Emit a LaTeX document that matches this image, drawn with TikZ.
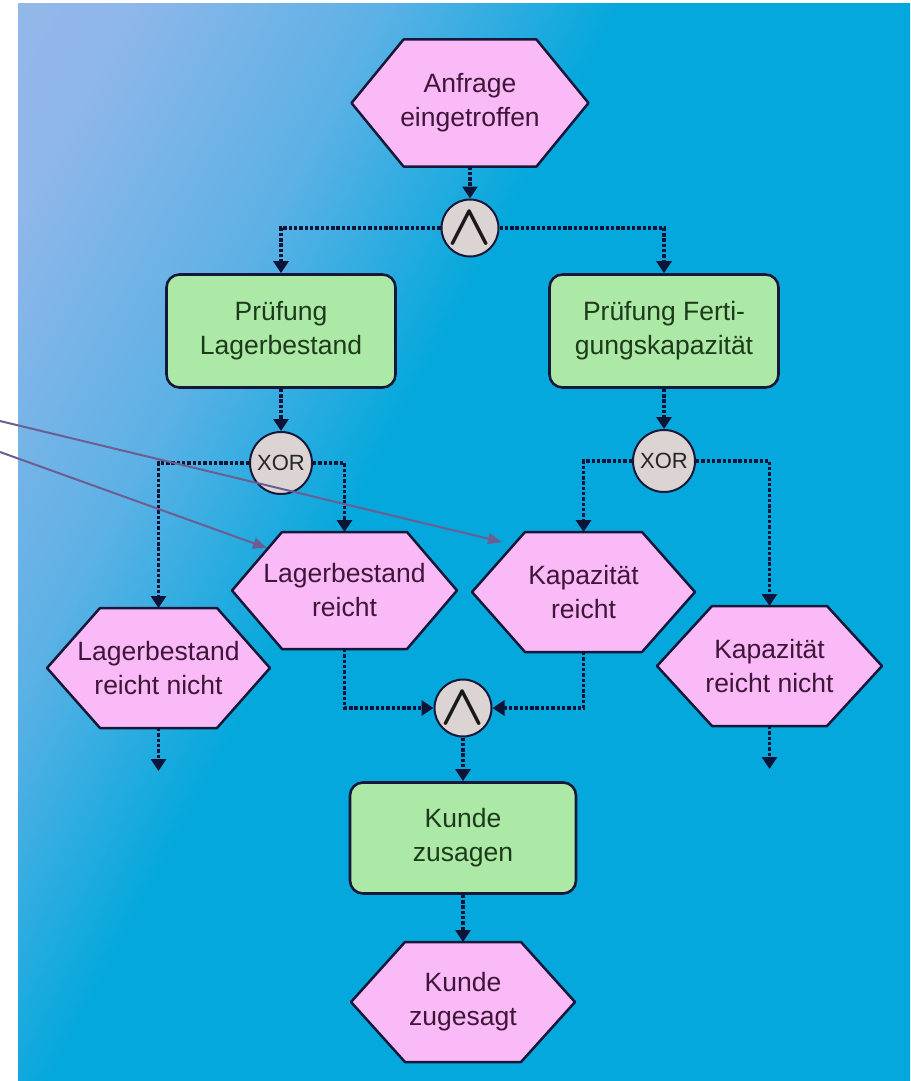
\documentclass[tikz,border=0pt]{standalone}
\usepackage{fontspec}
\setmainfont{Liberation Sans}
\usetikzlibrary{arrows.meta,calc}

% colours
\definecolor{bgA}{HTML}{9BBAEC}
\definecolor{bgB}{HTML}{90B7EA}
\definecolor{bgC}{HTML}{5DB1E5}
\definecolor{bgD}{HTML}{05A8DC}
\definecolor{evtfill}{HTML}{FAB9F7}
\definecolor{fnfill}{HTML}{ACE8A6}
\definecolor{gatefill}{HTML}{DCD3D3}
\definecolor{edgecol}{HTML}{16183A}
\definecolor{flowcol}{HTML}{0C1438}
\definecolor{evttext}{HTML}{3E1638}
\definecolor{fntext}{HTML}{1D3A1B}
\definecolor{notecol}{HTML}{6A5E92}

\pgfdeclarehorizontalshading{panelshade}{100bp}{%
  color(0bp)=(bgA); color(21bp)=(bgB); color(33bp)=(bgC);
  color(44bp)=(bgD); color(100bp)=(bgD)}

\pgfdeclarelayer{panel}
\pgfdeclarelayer{shapes}
\pgfsetlayers{panel,shapes,main}

% AND symbol drawn large
\newcommand{\andglyph}{\resizebox{!}{32pt}{\boldmath$\wedge$}}

\tikzset{
  txt/.style={font=\fontsize{26.5}{34}\selectfont, align=center},
  evt/.style={txt, text=evttext, inner sep=0pt, outer sep=0pt,
    minimum width=225, minimum height=120},
  hexline/.style={draw=edgecol, line width=2.5, fill=evtfill, line join=round},
  fn/.style={txt, text=fntext, draw=edgecol, line width=2.6, fill=fnfill,
    rounded corners=13, minimum width=229, minimum height=113, inner sep=0pt},
  gate/.style={circle, draw=edgecol, line width=2, fill=gatefill,
    inner sep=0pt, minimum size=57},
  andsym/.style={gate, text=black!90},
  xorsym/.style={gate, minimum size=62, font=\fontsize{22}{24}\selectfont, text=black!85},
  flow/.style={draw=flowcol, line width=3.2, dash pattern=on 3.4 off 1.9,
    -{Triangle[width=15,length=12]}},
  notearrow/.style={draw=notecol, line width=2,
    -{Triangle[width=11,length=14]}},
}

\begin{document}
\begin{tikzpicture}[x=1pt,y=-1pt]
\useasboundingbox (0,0) rectangle (910,1081);

% background panel
\begin{pgfonlayer}{panel}
  \shade[shading=panelshade, shading angle=-28] (18,4) rectangle (910,1081);
\end{pgfonlayer}

% events
\node[evt, minimum width=237, minimum height=127] (anf) at (470,103) {Anfrage\\eingetroffen};
\node[evt, minimum height=117] (lr)  at (344.5,590.5) {Lagerbestand\\reicht};
\node[evt, minimum width=223] (lrn) at (158.5,668) {Lagerbestand\\reicht nicht};
\node[evt, minimum width=223] (kr)  at (583.5,592) {Kapazit\"at\\reicht};
\node[evt] (krn) at (769.5,666) {Kapazit\"at\\reicht nicht};
\node[evt, minimum width=224] (kzt) at (463,1002) {Kunde\\zugesagt};

% hexagon outlines behind the event texts
\begin{pgfonlayer}{shapes}
  \foreach \n/\d in {anf/52,lr/50,lrn/53,kr/53,krn/55,kzt/54}
    \draw[hexline] (\n.west) -- ([xshift=\d]\n.north west) -- ([xshift=-\d]\n.north east)
      -- (\n.east) -- ([xshift=-\d]\n.south east) -- ([xshift=\d]\n.south west) -- cycle;
\end{pgfonlayer}

% functions
\node[fn] (pl) at (281,331) {Pr\"ufung\\Lagerbestand};
\node[fn] (pf) at (664,331) {Pr\"ufung Ferti-\\gungskapazit\"at};
\node[fn, minimum width=226, minimum height=111] (kz) at (463,838) {Kunde\\zusagen};

% connectors
\node[andsym] (and1) at (470,228) {\andglyph};
\node[xorsym] (x1) at (281,463) {XOR};
\node[xorsym] (x2) at (664,461) {XOR};
\node[andsym] (and2) at (463,708) {\andglyph};

\coordinate (outl) at (158.5,771);
\coordinate (outr) at (769.5,769);

% control flow
\draw[flow] (anf.south) -- (and1.north);
\draw[flow] (and1.west) -| (pl.north);
\draw[flow] (and1.east) -| (pf.north);
\draw[flow] (pl.south) -- (x1.north);
\draw[flow] (pf.south) -- (x2.north);
\draw[flow] (x1.west) -| (lrn.north);
\draw[flow] (x1.east) -| (lr.north);
\draw[flow] (x2.west) -| (kr.north);
\draw[flow] (x2.east) -| (krn.north);
\draw[flow] (lr.south) |- (and2.west);
\draw[flow] (kr.south) |- (and2.east);
\draw[flow] (and2.south) -- (kz.north);
\draw[flow] (kz.south) -- (kzt.north);
\draw[flow] (lrn.south) -- (outl);
\draw[flow] (krn.south) -- (outr);

% pointers from the left margin
\coordinate (p1) at (0,421);
\coordinate (p2) at (0,452);
\draw[notearrow] (p1) -- ($(kr.north west)+(30,10)$);
\draw[notearrow] (p2) -- ($(lr.north west)+(35,16)$);
\end{tikzpicture}
\end{document}
